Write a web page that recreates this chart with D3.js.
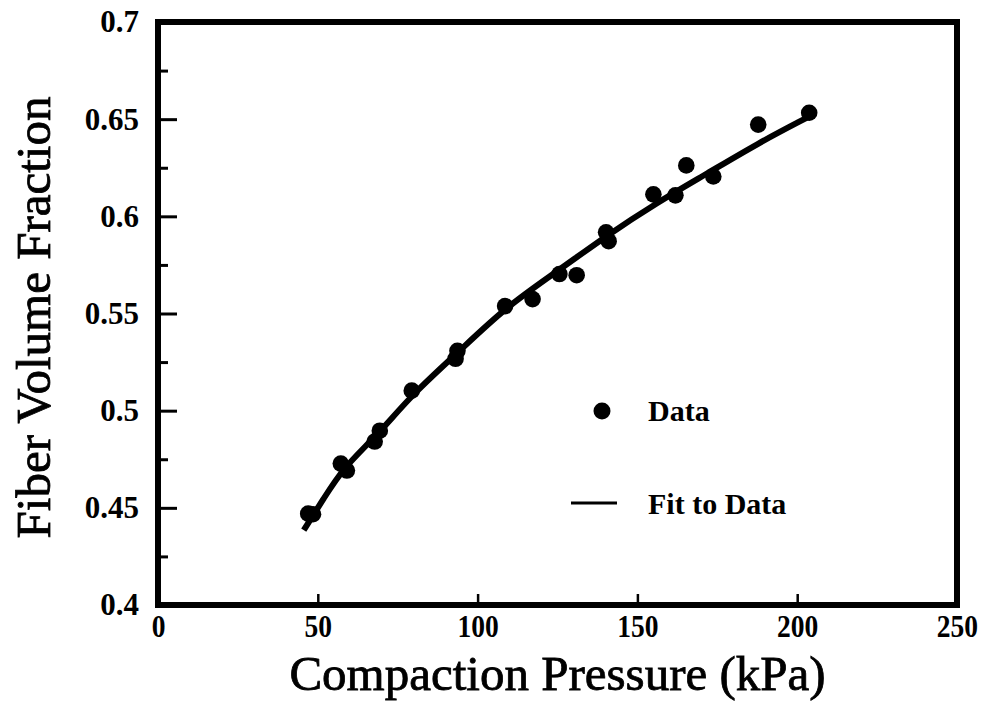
<!DOCTYPE html>
<html>
<head>
<meta charset="utf-8">
<script src="https://cdn.jsdelivr.net/npm/d3@7"></script>
<style>
  body { margin: 0; background: #fff; }
  svg { display: block; }
</style>
</head>
<body>
<div id="chart"></div>
<script>
const pressure = [47, 48.5, 57.2, 59.1, 67.8, 69.4, 79.4, 93.1, 93.7, 108.6, 117.2, 125.6, 131, 140.2, 141, 155, 161.9, 165.3, 173.75, 187.8, 203.75];
const fraction = [0.447, 0.4467, 0.4728, 0.4692, 0.4841, 0.4897, 0.5103, 0.5267, 0.5308, 0.5538, 0.5574, 0.5703, 0.5697, 0.5918, 0.5872, 0.6113, 0.6108, 0.6262, 0.6205, 0.6472, 0.6533];

// fitted curve
const fitPressure = [45.6, 51.9, 57.8, 69.1, 79.4, 93.75, 108.75, 125.9, 140, 156.25, 171.9, 187.5, 203.1];
const fitFraction = [0.4385, 0.4549, 0.4703, 0.4882, 0.5082, 0.5297, 0.5533, 0.5728, 0.5897, 0.6072, 0.6221, 0.6374, 0.6508];

const xTicks = [0, 50, 100, 150, 200, 250];
const yTicks = [0.4, 0.45, 0.5, 0.55, 0.6, 0.65, 0.7];
const yMinorTicks = [0.425, 0.475, 0.525, 0.575, 0.625, 0.675];

const width = 989;
const height = 706;
const plot = { left: 158, right: 957, top: 22, bottom: 605 };

const svg = d3.select("#chart").append("svg")
    .attr("width", width)
    .attr("height", height);

const x = d3.scaleLinear().domain([0, 250]).range([plot.left, plot.right]);
const y = d3.scaleLinear().domain([0.4, 0.7]).range([plot.bottom, plot.top]);

const serif = "'Liberation Serif', 'Times New Roman', serif";

// y axis, major ticks pointing inward
const yAxis = svg.append("g")
    .attr("transform", `translate(${plot.left},0)`)
    .call(d3.axisLeft(y).tickValues(yTicks).tickSize(-19).tickPadding(19)
        .tickFormat(d => String(+d.toFixed(2))));
yAxis.select(".domain").remove();
yAxis.selectAll("line").attr("stroke", "#000").attr("stroke-width", 3);
yAxis.selectAll("text")
    .attr("font-family", serif)
    .attr("font-weight", "bold")
    .attr("font-size", 31)
    .attr("fill", "#000");

// y minor ticks
const yMinor = svg.append("g")
    .attr("transform", `translate(${plot.left},0)`)
    .call(d3.axisLeft(y).tickValues(yMinorTicks).tickSize(-10).tickFormat(""));
yMinor.select(".domain").remove();
yMinor.selectAll("line").attr("stroke", "#000").attr("stroke-width", 3);

// x axis
const xAxis = svg.append("g")
    .attr("transform", `translate(0,${plot.bottom})`)
    .call(d3.axisBottom(x).tickValues(xTicks).tickSize(-11).tickPadding(9));
xAxis.select(".domain").remove();
xAxis.selectAll("line").attr("stroke", "#000").attr("stroke-width", 2.5);
xAxis.selectAll("text")
    .attr("font-family", serif)
    .attr("font-weight", "bold")
    .attr("font-size", 32)
    .attr("fill", "#000")
    .attr("transform", "scale(0.86,1)");
// scale(0.86,1) squeezes around x=0 of each tick group, so labels stay centred

// frame
svg.append("rect")
    .attr("x", plot.left)
    .attr("y", plot.top)
    .attr("width", plot.right - plot.left)
    .attr("height", plot.bottom - plot.top)
    .attr("fill", "none")
    .attr("stroke", "#000")
    .attr("stroke-width", 6);

// fit curve
const fitData = fitPressure.map((p, i) => [p, fitFraction[i]]);
svg.append("path")
    .datum(fitData)
    .attr("fill", "none")
    .attr("stroke", "#000")
    .attr("stroke-width", 6)
    .attr("d", d3.line()
        .x(d => x(d[0]))
        .y(d => y(d[1]))
        .curve(d3.curveBasis));

// data points
svg.append("g")
    .selectAll("circle")
    .data(pressure.map((p, i) => [p, fraction[i]]))
    .join("circle")
    .attr("cx", d => x(d[0]))
    .attr("cy", d => y(d[1]))
    .attr("r", 8.3)
    .attr("fill", "#000");

// legend
const legend = svg.append("g");
legend.append("circle")
    .attr("cx", 602).attr("cy", 411).attr("r", 8.5).attr("fill", "#000");
legend.append("text")
    .attr("x", 648).attr("y", 421)
    .attr("font-family", serif).attr("font-weight", "bold").attr("font-size", 30)
    .text("Data");
legend.append("line")
    .attr("x1", 571).attr("x2", 617).attr("y1", 503).attr("y2", 503)
    .attr("stroke", "#000").attr("stroke-width", 3);
legend.append("text")
    .attr("x", 648).attr("y", 514)
    .attr("font-family", serif).attr("font-weight", "bold").attr("font-size", 30)
    .text("Fit to Data");

// axis titles
svg.append("text")
    .attr("x", (plot.left + plot.right) / 2)
    .attr("y", 690)
    .attr("text-anchor", "middle")
    .attr("font-family", serif)
    .attr("font-size", 49)
    .attr("stroke", "#000")
    .attr("stroke-width", 0.8)
    .text("Compaction Pressure (kPa)");

svg.append("text")
    .attr("transform", `translate(50,${(plot.top + plot.bottom) / 2 + 4}) rotate(-90)`)
    .attr("text-anchor", "middle")
    .attr("font-family", serif)
    .attr("font-size", 49)
    .attr("stroke", "#000")
    .attr("stroke-width", 0.8)
    .text("Fiber Volume Fraction");
</script>
</body>
</html>
